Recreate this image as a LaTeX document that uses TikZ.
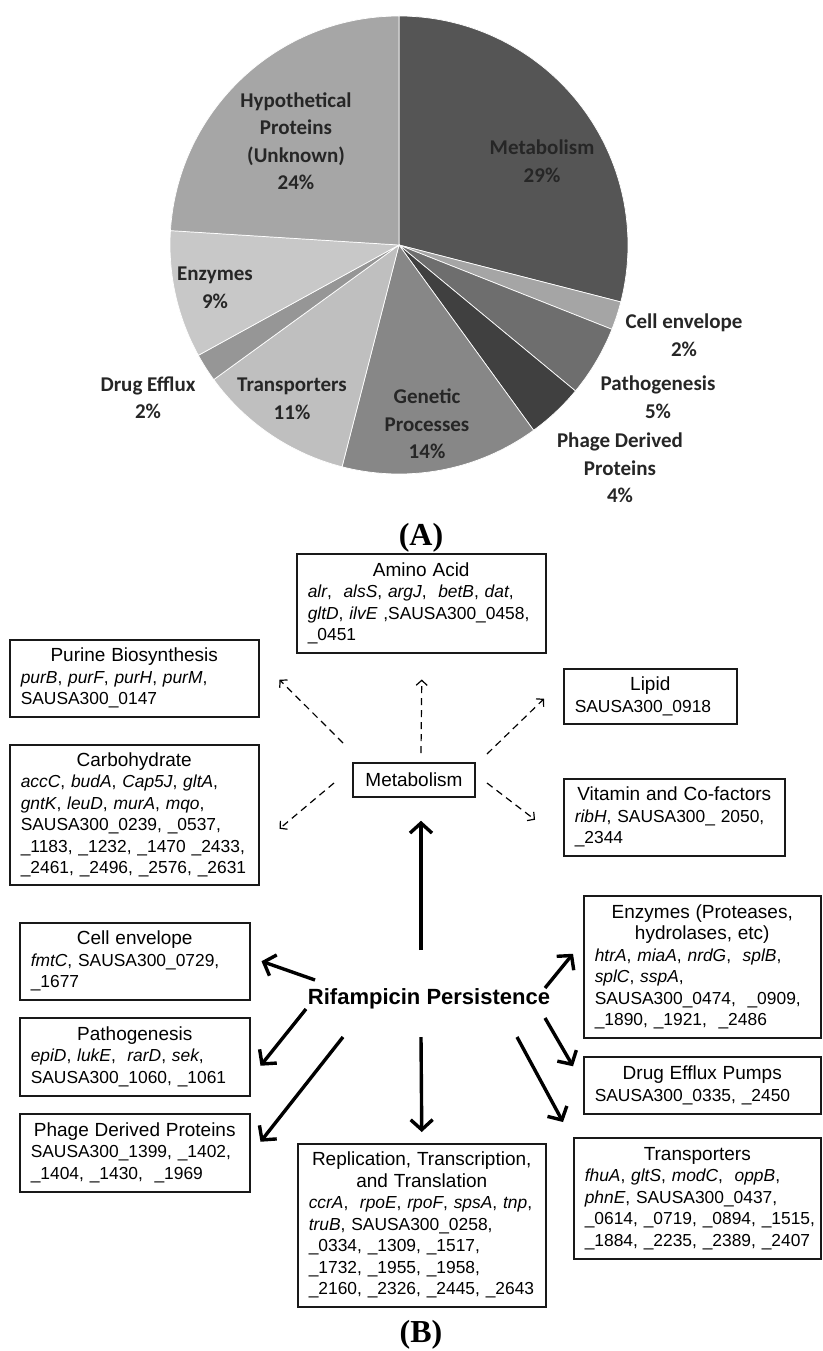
\documentclass[tikz,border=0pt]{standalone}
\usepackage{fontspec}
\setmainfont{Liberation Sans}
\newfontfamily\piefont{Carlito}
\newfontfamily\capfont{Liberation Serif}
\usetikzlibrary{arrows.meta,calc}
\definecolor{pietext}{HTML}{262626}
\definecolor{metabcol}{HTML}{555555}
\definecolor{cellcol}{HTML}{A5A5A5}
\definecolor{pathocol}{HTML}{6E6E6E}
\definecolor{phagecol}{HTML}{404040}
\definecolor{geneticcol}{HTML}{878787}
\definecolor{transcol}{HTML}{BFBFBF}
\definecolor{effluxcol}{HTML}{969696}
\definecolor{enzcol}{HTML}{C8C8C8}
\definecolor{hypocol}{HTML}{A6A6A6}
\setlength{\parindent}{0pt}
\newcommand{\boxtitle}[1]{{\centering\fontsize{19}{21.5}\selectfont #1\par}}

\begin{document}
\begin{tikzpicture}[x=1pt,y=-1pt,
    genebox/.style={draw=black!90, line width=1.5pt, anchor=north west, align=left,
      inner xsep=11pt, inner ysep=0pt, font=\fontsize{17.4}{21.5}\selectfont},
    pielabel/.style={align=center, text=pietext, inner sep=0pt,
      font=\piefont\bfseries\fontsize{21}{27.5}\selectfont},
    bigarrow/.style={line width=3.4pt, -{Straight Barb[length=10pt,width=22pt]}},
    subarrow/.style={line width=1.2pt, dash pattern=on 7pt off 5pt,
      -{Straight Barb[length=5pt,width=11pt]}},
    panel/.style={font=\capfont\bfseries\fontsize{32}{36}\selectfont, inner sep=0pt}]
    \fill[white] (0,0) rectangle (822,1351);
    \useasboundingbox (0,0) rectangle (822,1351);

    \coordinate (pc) at (399,245);
    \foreach \from/\to/\shade in {-90/14.4/metabcol, 14.4/21.6/cellcol, 21.6/39.6/pathocol,
      39.6/54/phagecol, 54/104.4/geneticcol, 104.4/144/transcol, 144/151.2/effluxcol,
      151.2/183.6/enzcol, 183.6/270/hypocol}
    \filldraw[fill=\shade, draw=white, line width=0.7pt] (pc) -- ++(\from:229)
      arc[start angle=\from, end angle=\to, radius=229] -- cycle;

    \node[pielabel] (lmetab) at (542,161) {Metabolism\\29\%};
    \node[pielabel] (lhypo) at (296,141) {Hypothetical\\Proteins\\(Unknown)\\24\%};
    \node[pielabel] (lenz) at (215,288) {Enzymes\\9\%};
    \node[pielabel] (ldrug) at (148,398) {Drug Efflux\\2\%};
    \node[pielabel] (ltrans) at (292,399) {Transporters\\11\%};
    \node[pielabel] (lgen) at (427,424) {Genetic\\Processes\\14\%};
    \node[pielabel] (lcell) at (684,335) {Cell envelope\\2\%};
    \node[pielabel] (lpath) at (658,397) {Pathogenesis\\5\%};
    \node[pielabel] (lphage) at (620,468) {Phage Derived\\Proteins\\4\%};

    \node[panel] (pa) at (421,538) {(A)};
    \node[panel] (pb) at (421,1335) {(B)};

    \node[genebox, text width=227pt, minimum height=99pt] (amino) at (296,553)
      {\boxtitle{Amino Acid}\textit{alr}, \ \textit{alsS}, \textit{argJ}, \ \textit{betB}, \textit{dat},\\
       \textit{gltD}, \textit{ilvE} ,SAUSA300\_0458,\\ \_0451};
    \node[genebox, text width=227pt, minimum height=77pt] (purine) at (9,639)
      {\boxtitle{Purine Biosynthesis}\textit{purB}, \textit{purF}, \textit{purH}, \textit{purM},\\ SAUSA300\_0147};
    \node[genebox, text width=227pt, minimum height=140pt] (carbo) at (9,744)
      {\boxtitle{Carbohydrate}\textit{accC}, \textit{budA}, \textit{Cap5J}, \textit{gltA},\\
       \textit{gntK}, \textit{leuD}, \textit{murA}, \textit{mqo},\\ SAUSA300\_0239, \_0537,\\
       \_1183,~\_1232,~\_1470~\_2433,\\ \_2461,~\_2496,~\_2576,~\_2631};
    \node[draw=black!90, line width=1.5pt, minimum width=122pt, minimum height=34pt, inner sep=0pt,
      font=\fontsize{19}{22}\selectfont] (metab) at (414,780) {Metabolism};
    \node[genebox, text width=151pt, minimum height=55pt] (lipid) at (563,668)
      {\boxtitle{Lipid}SAUSA300\_0918};
    \node[genebox, text width=199pt, minimum height=77pt] (vitamin) at (563,778)
      {\boxtitle{Vitamin and Co-factors}\textit{ribH}, SAUSA300\_ 2050,\\ \_2344};
    \node[genebox, text width=208pt, minimum height=77pt] (cellenv) at (19,922)
      {\boxtitle{Cell envelope}\textit{fmtC}, SAUSA300\_0729,\\ \_1677};
    \node[genebox, text width=208pt, minimum height=78pt] (patho) at (19,1017)
      {\boxtitle{Pathogenesis}\textit{epiD}, \textit{lukE}, \ \textit{rarD}, \textit{sek},\\ SAUSA300\_1060, \_1061};
    \node[genebox, text width=208pt, minimum height=78pt] (phage) at (19,1113)
      {\boxtitle{Phage Derived Proteins}SAUSA300\_1399, \_1402,\\ \_1404, \_1430, \ \_1969};
    \node[genebox, text width=226pt, minimum height=163pt] (repl) at (297,1143)
      {\boxtitle{Replication, Transcription,\\ and Translation}\textit{ccrA}, \ \textit{rpoE}, \textit{rpoF}, \textit{spsA}, \textit{tnp},\\
       \textit{truB}, SAUSA300\_0258,\\ \_0334, \_1309, \_1517,\\ \_1732, \_1955, \_1958,\\
       \_2160,~\_2326,~\_2445,~\_2643};
    \node[genebox, text width=215pt, minimum height=142pt] (enz) at (583,895)
      {\boxtitle{Enzymes (Proteases,\\ hydrolases, etc)}\textit{htrA}, \textit{miaA}, \textit{nrdG}, \ \textit{splB},\\
       \textit{splC}, \textit{sspA},\\ SAUSA300\_0474, \ \_0909,\\ \_1890, \_1921, \ \_2486};
    \node[genebox, text width=215pt, minimum height=57pt] (pumps) at (583,1056)
      {\boxtitle{Drug Efflux Pumps}SAUSA300\_0335, \_2450};
    \node[genebox, text width=225pt, minimum height=121pt] (trans) at (573,1137)
      {\boxtitle{Transporters}\textit{fhuA}, \textit{gltS}, \textit{modC}, \ \textit{oppB},\\
       \textit{phnE}, SAUSA300\_0437,\\ \_0614,~\_0719,~\_0894,~\_1515,\\ \_1884,~\_2235,~\_2389,~\_2407};

    \node[font=\bfseries\fontsize{22}{26}\selectfont, inner sep=0pt] (rif) at (429,999) {Rifampicin Persistence};

    \draw[bigarrow] ($(rif)+(-8,-49)$) -- ($(metab.south)+(7,23)$);
    \draw[bigarrow] ($(rif)+(-8,38)$) -- ($(repl.north)+(0,-11)$);
    \draw[bigarrow] ($(rif)+(-114,-19)$) -- ($(cellenv.east)+(11,0)$);
    \draw[bigarrow] ($(rif)+(-123,10)$) -- ($(patho.east)+(10,9)$);
    \draw[bigarrow] ($(rif)+(-86,38)$) -- ($(phage.east)+(10,-11)$);
    \draw[bigarrow] ($(rif)+(116,-11)$) -- ($(enz.west)+(-10,-13)$);
    \draw[bigarrow] ($(rif)+(116,19)$) -- ($(pumps.west)+(-10,-19)$);
    \draw[bigarrow] ($(rif)+(88,38)$) -- ($(trans.north west)+(-10,-15)$);

    \draw[subarrow] ($(metab)+(-71,-37)$) -- ($(purine.east)+(20,1.5)$);
    \draw[subarrow] ($(metab)+(7,-27)$) -- ($(amino.south)+(0.5,26)$);
    \draw[subarrow] ($(metab)+(73,-26)$) -- ($(lipid.west)+(-19,2.5)$);
    \draw[subarrow] ($(metab)+(73,3)$) -- ($(vitamin.west)+(-28,2.5)$);
    \draw[subarrow] ($(metab)+(-80,3)$) -- ($(carbo.east)+(20,14)$);
\end{tikzpicture}
\end{document}
